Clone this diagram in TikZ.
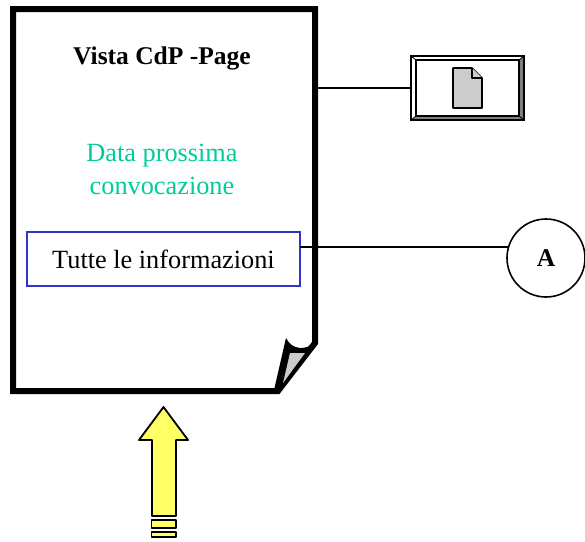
\documentclass[tikz,border=0pt]{standalone}
\usepackage{fontspec}
\setmainfont{Liberation Serif}
\usepackage{tikz}
\usetikzlibrary{calc}
\definecolor{datagreen}{RGB}{0,204,153}
\definecolor{boxblue}{RGB}{51,51,204}
\definecolor{pagegray}{RGB}{204,204,204}
\definecolor{arrowyellow}{RGB}{255,255,102}
\tikzset{
    pageline/.style={draw=black,line width=6pt,line join=miter},
    linkline/.style={draw=black,line width=1.6pt},
    yellowpart/.style={draw=black,line width=1.8pt,fill=arrowyellow,line join=round},
    iconpart/.style={draw=black,line width=1.6pt,fill=pagegray,line join=round},
    bigtext/.style={font=\fontsize{26.3}{33}\selectfont},
    boldtext/.style={font=\fontsize{25.5}{33}\selectfont\bfseries},
}
\begin{document}
\begin{tikzpicture}[x=1pt,y=-1pt]
    \useasboundingbox (0,0) rectangle (585,541);
    % page with the folded corner
    \draw[pageline] (13,9) -- (315,9) -- (315,343) -- (278,391) -- (13,391) -- cycle;
    \fill[black] (286,338) .. controls (292,350) and (305,351) .. (316,342) -- (278,393) -- (274,390) -- cycle;
    \fill[pagegray] (290,353) -- (305,353) -- (283,383) -- cycle;
    \node[boldtext] (title) at (162,58) {Vista CdP -Page};
    \node[bigtext,text=datagreen,align=center] (nextdate) at (162,169) {Data prossima\\convocazione};
    \node[bigtext,draw=boxblue,line width=1.4pt,minimum width=273pt,minimum height=54pt,inner sep=0pt] (info) at (163.5,259)
        {\raisebox{-2pt}{Tutte le informazioni}};
    % button with the small page
    \node[minimum width=113pt,minimum height=64pt,inner sep=0pt] (button) at (467.5,88) {};
    \fill[gray] (411.5,120) -- (524,120) -- (524,56) -- (519,60) -- (519,116) -- (416,116) -- cycle;
    \draw[black,line width=2pt] (411,56) rectangle (524,120);
    \draw[black,line width=2pt] (416,60) rectangle (519,116);
    \draw[black,line width=.8pt] (411,56) -- (416,60) (524,56) -- (519,60) (411,120) -- (416,116) (524,120) -- (519,116);
    \draw[iconpart] (453,68) -- (472,68) -- (482,78) -- (482,108) -- (453,108) -- cycle;
    \draw[iconpart] (472,68) -- (472,78) -- (482,78);
    \node[boldtext,circle,draw=black,line width=1.6pt,minimum size=78pt,inner sep=0pt] (circA) at (546,258)
        {\raisebox{-2pt}{A}};
    \coordinate (pageout) at (318,88);
    \coordinate (infoout) at (300,247);
    \draw[linkline] (pageout) -- (button.west);
    \draw[linkline] (infoout) -- (circA.164);
    % yellow arrow
    \draw[yellowpart] (163.5,407) -- (188,440) -- (176,440) -- (176,516) -- (152,516) -- (152,440) -- (139,440) -- cycle;
    \draw[yellowpart] (151.5,520) rectangle (176,528);
    \draw[yellowpart] (151.5,532) rectangle (176,537);
\end{tikzpicture}
\end{document}
